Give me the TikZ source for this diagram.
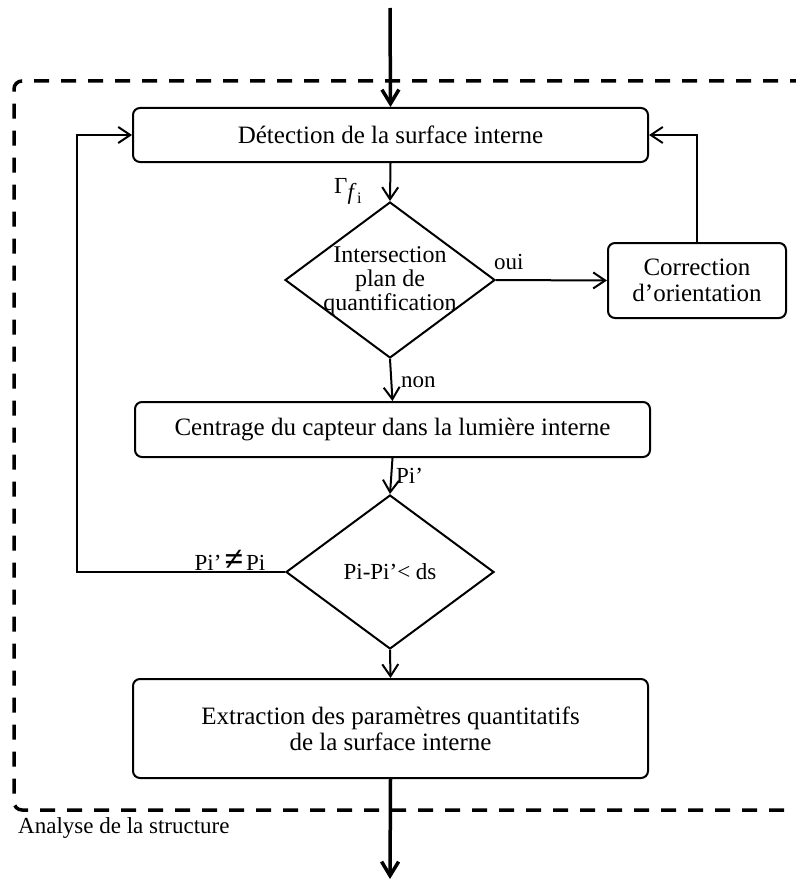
\documentclass[tikz,border=0pt]{standalone}
\usepackage{fontspec}
\setmainfont{Liberation Serif}
\usetikzlibrary{arrows.meta,shapes.geometric}
\tikzset{
  box/.style={draw, line width=2pt, rounded corners=7pt, inner sep=0pt, align=center,
    font=\fontsize{25}{26}\selectfont},
  decision/.style={draw, line width=2pt, diamond, inner sep=0pt},
  dtext/.style={align=center, inner sep=0pt, font=\fontsize{24}{24}\selectfont},
  flow/.style={line width=2pt, -{Straight Barb[length=12pt,width=16pt]}},
  bigflow/.style={line width=3.5pt, -{Straight Barb[length=14pt,width=17pt]}},
  dashframe/.style={line width=3.5pt, dash pattern=on 15pt off 12pt, rounded corners=8pt},
  lbl/.style={inner sep=0pt, font=\fontsize{23}{24}\selectfont}
}
\begin{document}
\begin{tikzpicture}[x=1pt,y=-1pt]
\useasboundingbox (0,0) rectangle (795,880);
\fill[white] (0,0) rectangle (795,880);

% dashed frame
\draw[dashframe] (805,81) -- (14,81) -- (14,810) -- (805,810);
\node[lbl, anchor=west] (frame) at (18,828) {Analyse de la structure};

% nodes
\node[box, minimum width=515pt, minimum height=54pt] (b1) at (390.5,135) {Détection de la surface interne};
\node[decision, minimum width=210pt, minimum height=156pt,
  label={[dtext, yshift=-1pt]center:Intersection\\plan de\\quantification}] (d1) at (390,280) {};
\node[box, minimum width=178pt, minimum height=75pt] (c) at (697,280.5) {Correction\\d’orientation};
\node[box, minimum width=515pt, minimum height=55pt] (b2) at (392.5,429.5) {Centrage du capteur dans la lumière interne};
\node[decision, minimum width=208pt, minimum height=154pt,
  label={[dtext, font=\fontsize{23}{24}\selectfont]center:Pi-Pi’< ds}] (d2) at (390,572) {};
\node[box, minimum width=515pt, minimum height=99pt] (b3) at (390.5,728.5) {Extraction des paramètres quantitatifs\\de la surface interne};

\coordinate (in) at (390,8);
\coordinate (out) at (390,879);
\coordinate (loop) at (77,572);

% connectors
\draw[bigflow] (in) -- (b1.north);
\draw[flow] (b1.south) -- (d1.north);
\node[lbl, anchor=base west, font=\fontsize{23}{23}\selectfont] (gam) at (334,193)
  {Γ\raisebox{-6pt}{\textit{f}\kern0.5pt\raisebox{-4pt}{\fontsize{16}{16}\selectfont i}}};
\draw[flow] (d1.east) -- (c.west);
\node[lbl, anchor=south west] (oui) at (494,270) {oui};
\draw[flow] (c.north) |- (b1.east);
\draw[flow] (d1.south) -- (b2.north);
\node[lbl, anchor=west] (non) at (401,382) {non};
\draw[flow] (b2.south) -- (d2.north);
\node[lbl, anchor=west] (pi) at (396,476) {Pi’};
\draw[flow] (d2.west) -- (loop) |- (b1.west);
\node[lbl, anchor=south] (neq) at (230,571) {Pi’\kern3pt{\fontsize{34}{34}\selectfont\textbf{≠}}\kern3pt Pi};
\draw[flow] (d2.south) -- (b3.north);
\draw[bigflow] (b3.south) -- (out);
\end{tikzpicture}
\end{document}
